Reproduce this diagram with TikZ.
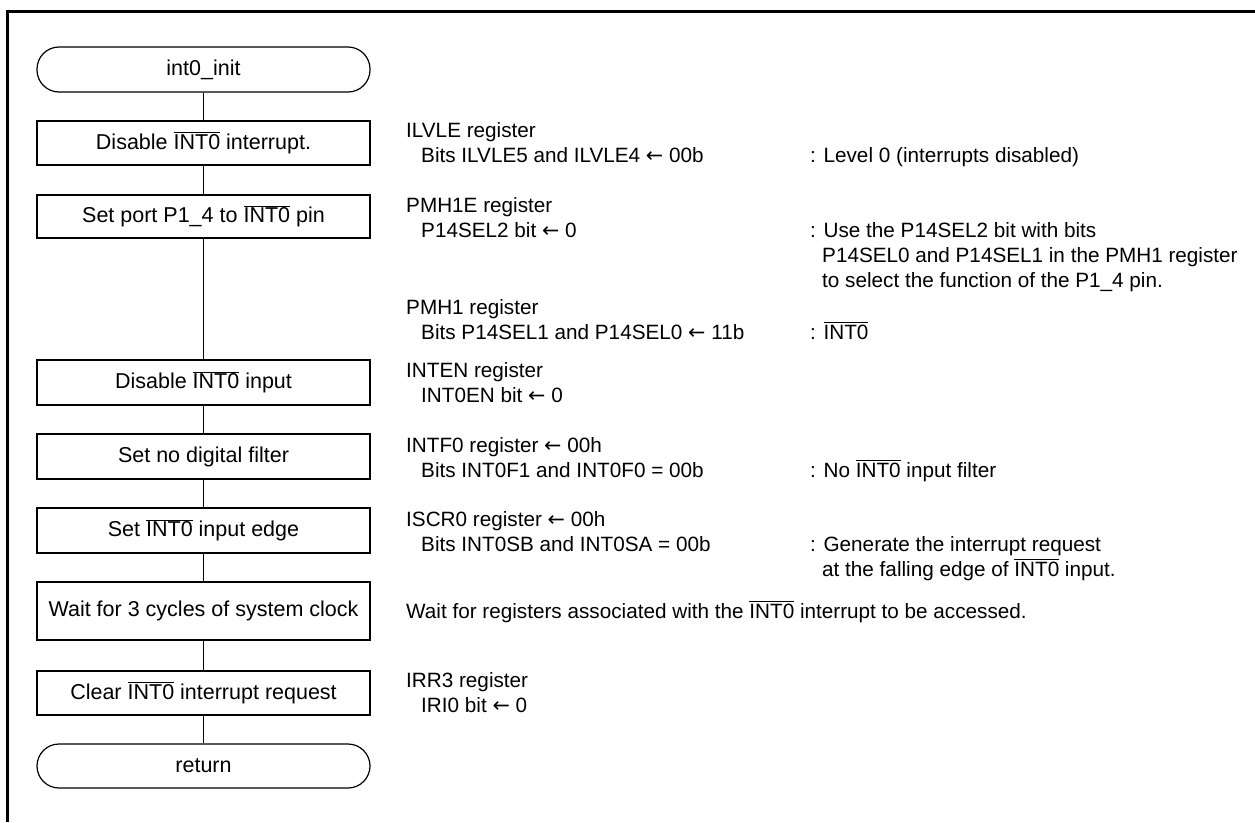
\documentclass[tikz,border=0pt]{standalone}
\usepackage{fontspec}
\setmainfont{Liberation Sans}
\newfontfamily\arrowfont{DejaVu Sans}
\newcommand\ovl[1]{\vbox{\hrule height 1.1pt\kern1.3pt\hbox{#1}}}
\newcommand\larr{{\arrowfont ←}}
\tikzset{
  stepbox/.style={draw, line width=1.2pt, minimum width=333pt, inner sep=0pt, align=center, font=\fontsize{21.5}{25}\selectfont},
  termbox/.style={stepbox, rounded corners=22pt},
  note/.style={anchor=base west, inner sep=0pt},
  flow/.style={line width=1.2pt},
}
\begin{document}
\begin{tikzpicture}[x=1pt,y=-1pt, font=\fontsize{20.7}{25}\selectfont]
\useasboundingbox (0,0) rectangle (1255,822);
% frame
\draw[line width=3pt] (7.5,822) -- (7.5,11.5) -- (1255,11.5);
% flow nodes
\node[termbox, minimum height=45pt] (start) at (203.5,69.5) {int0\_init};
\node[stepbox, minimum height=44pt] (b1) at (203.5,143) {Disable \ovl{INT0} interrupt.};
\node[stepbox, minimum height=43pt] (b2) at (203.5,216.5) {Set port P1\_4 to \ovl{INT0} pin};
\node[stepbox, minimum height=45pt] (b3) at (203.5,382.5) {Disable \ovl{INT0} input};
\node[stepbox, minimum height=45pt] (b4) at (203.5,456.5) {Set no digital filter};
\node[stepbox, minimum height=45pt] (b5) at (203.5,530.5) {Set \ovl{INT0} input edge};
\node[stepbox, minimum height=58pt] (b6) at (203.5,611) {Wait for 3 cycles of system clock};
\node[stepbox, minimum height=44pt] (b7) at (203.5,693) {Clear \ovl{INT0} interrupt request};
\node[termbox, minimum height=44pt] (end) at (203.5,766) {return};
\draw[flow] (start) -- (b1);
\draw[flow] (b1) -- (b2);
\draw[flow] (b2) -- (b3);
\draw[flow] (b3) -- (b4);
\draw[flow] (b4) -- (b5);
\draw[flow] (b5) -- (b6);
\draw[flow] (b6) -- (b7);
\draw[flow] (b7) -- (end);
% notes
\node[note] (n1a) at (406,137) {ILVLE register};
\node[note] (n1b) at (421,162.5) {Bits ILVLE5 and ILVLE4 \larr{} 00b};
\node[note] (n1c) at (810,162.5) {: Level 0 (interrupts disabled)};
\node[note] (n2a) at (406,212) {PMH1E register};
\node[note] (n2b) at (421,237.5) {P14SEL2 bit \larr{} 0};
\node[note] (n2c) at (810,237.5) {: Use the P14SEL2 bit with bits};
\node[note] (n2d) at (822,262.5) {P14SEL0 and P14SEL1 in the PMH1 register};
\node[note] (n2e) at (822,287.5) {to select the function of the P1\_4 pin.};
\node[note] (n2f) at (406,314) {PMH1 register};
\node[note] (n2g) at (421,339) {Bits P14SEL1 and P14SEL0 \larr{} 11b};
\node[note] (n2h) at (810,339) {: \ovl{INT0}};
\node[note] (n3a) at (406,377) {INTEN register};
\node[note] (n3b) at (421,402) {INT0EN bit \larr{} 0};
\node[note] (n4a) at (406,452) {INTF0 register \larr{} 00h};
\node[note] (n4b) at (421,477) {Bits INT0F1 and INT0F0 = 00b};
\node[note] (n4c) at (810,477) {: No \ovl{INT0} input filter};
\node[note] (n5a) at (406,526) {ISCR0 register \larr{} 00h};
\node[note] (n5b) at (421,551) {Bits INT0SB and INT0SA = 00b};
\node[note] (n5c) at (810,551) {: Generate the interrupt request};
\node[note] (n5d) at (822,576) {at the falling edge of \ovl{INT0} input.};
\node[note] (n6a) at (406,618) {Wait for registers associated with the \ovl{INT0} interrupt to be accessed.};
\node[note] (n7a) at (406,687) {IRR3 register};
\node[note] (n7b) at (421,712) {IRI0 bit \larr{} 0};
\end{tikzpicture}
\end{document}
